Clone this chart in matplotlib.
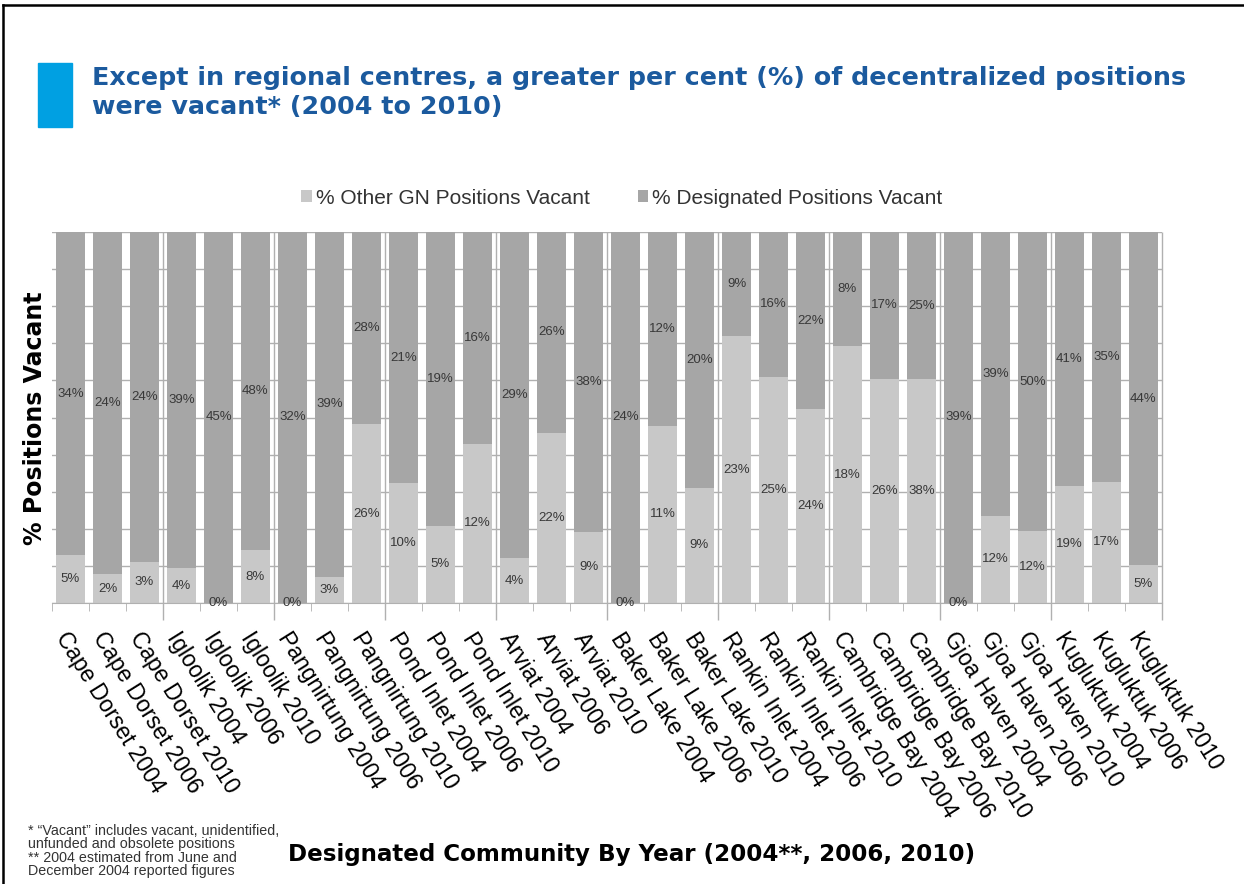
import matplotlib
matplotlib.use("Agg")
import matplotlib.pyplot as plt
import numpy as np
from matplotlib.lines import Line2D
from matplotlib.patches import Rectangle

communities = ["Cape Dorset", "Igloolik", "Pangnirtung", "Pond Inlet", "Arviat",
               "Baker Lake", "Rankin Inlet", "Cambridge Bay", "Gjoa Haven", "Kugluktuk"]
years = ["2004", "2006", "2010"]

# % vacant, one value per community/year (2004, 2006, 2010)
other_gn = [5, 2, 3,
            4, 0, 8,
            0, 3, 26,
            10, 5, 12,
            4, 22, 9,
            0, 11, 9,
            23, 25, 24,
            18, 26, 38,
            0, 12, 12,
            19, 17, 5]
designated = [34, 24, 24,
              39, 45, 48,
              32, 39, 28,
              21, 19, 16,
              29, 26, 38,
              24, 12, 20,
              9, 16, 22,
              8, 17, 25,
              39, 39, 50,
              41, 35, 44]

series_names = ["% Other GN Positions Vacant", "% Designated Positions Vacant"]

title_lines = ["Except in regional centres, a greater per cent (%) of decentralized positions",
               "were vacant* (2004 to 2010)"]
footnote = ("* \u201cVacant\u201d includes vacant, unidentified,\n"
            "unfunded and obsolete positions\n"
            "** 2004 estimated from June and\n"
            "December 2004 reported figures")

light = "#c8c8c8"
dark = "#a6a6a6"
grid_col = "#b0b0b0"

W, H = 1244, 884
fig = plt.figure(figsize=(W / 100, H / 100), dpi=100)
fig.patch.set_facecolor("white")

# slide frame (top and left edges)
fig.add_artist(Line2D([3 / W, 1], [1 - 5 / H, 1 - 5 / H], color="black", lw=1.8))
fig.add_artist(Line2D([3 / W, 3 / W], [0, 1 - 5 / H], color="black", lw=1.8))

# title block
fig.add_artist(Rectangle((38 / W, 1 - 127 / H), 34 / W, 64 / H,
                         color="#00a0e2", transform=fig.transFigure))
fig.text(92 / W, 1 - 78 / H, title_lines[0], fontsize=18.3, fontweight="bold",
         color="#1b5a9e", family="DejaVu Sans", va="center", ha="left")
fig.text(92 / W, 1 - 107 / H, title_lines[1], fontsize=18.3, fontweight="bold",
         color="#1b5a9e", family="DejaVu Sans", va="center", ha="left")

ax = fig.add_axes([52 / W, 1 - 603 / H, (1162 - 52) / W, (603 - 232) / H])

labels = [f"{c} {y}" for c in communities for y in years]
other = np.array(other_gn, dtype=float)
desig = np.array(designated, dtype=float)
total = other + desig
other_share = other / total
desig_share = desig / total
x = np.arange(len(labels))

b1 = ax.bar(x, other_share, width=0.76, color=light, zorder=2, label=series_names[0])
b2 = ax.bar(x, desig_share, bottom=other_share, width=0.76, color=dark, zorder=2,
            label=series_names[1])

for i in range(len(x)):
    ax.text(x[i], other_share[i] / 2, f"{other_gn[i]}%", ha="center", va="center",
            fontsize=9.5, color="#383838", family="Liberation Sans", zorder=3)
    ax.text(x[i], other_share[i] + desig_share[i] / 2, f"{designated[i]}%",
            ha="center", va="center", fontsize=9.5, color="#383838",
            family="Liberation Sans", zorder=3)

ax.set_xlim(-0.5, len(x) - 0.5)
ax.set_ylim(0, 1)
ax.set_yticks(np.arange(0, 1.01, 0.1))
ax.set_yticklabels([])
ax.tick_params(axis="y", length=0)
ax.grid(axis="y", color=grid_col, lw=1, zorder=0)
ax.set_axisbelow(True)

for s in ["top", "right", "left"]:
    ax.spines[s].set_visible(False)
ax.spines["bottom"].set_color(grid_col)

# category ticks at every bar boundary, longer separators between communities
ax.set_xticks(x)
ax.set_xticklabels(labels, rotation=-58, ha="left", va="top", rotation_mode="anchor",
                   fontsize=16.5, family="Liberation Sans")
ax.tick_params(axis="x", which="major", length=0, pad=18)
ax.set_xticks(np.arange(-0.5, len(x), 1.0), minor=True)
ax.tick_params(axis="x", which="minor", length=6, color=grid_col)
groups = np.arange(2.5, len(x), 3)
ax.vlines(groups, -0.046, 1, transform=ax.get_xaxis_transform(), color=grid_col,
          lw=1, clip_on=False, zorder=1)

fig.legend(handles=[b1, b2], labels=series_names, loc="center",
           bbox_to_anchor=(622 / W, 1 - 198 / H), ncol=2, frameon=False,
           handlelength=0.5, handleheight=0.5, handletextpad=0.2,
           columnspacing=2.3, prop={"family": "Liberation Sans", "size": 15},
           labelcolor="#333333")

fig.text(35 / W, 1 - 418 / H, "% Positions Vacant", rotation=90, fontsize=17,
         fontweight="bold", family="DejaVu Sans", ha="center", va="center")
fig.text(632 / W, 1 - 855 / H, "Designated Community By Year (2004**, 2006, 2010)",
         fontsize=16.6, fontweight="bold", family="DejaVu Sans", ha="center", va="center")

fig.text(28 / W, 1 - 824 / H, footnote, fontsize=10.3, family="Liberation Sans",
         color="#333333", ha="left", va="top", linespacing=0.95)

fig.savefig("out.png", dpi=100, facecolor="white")
